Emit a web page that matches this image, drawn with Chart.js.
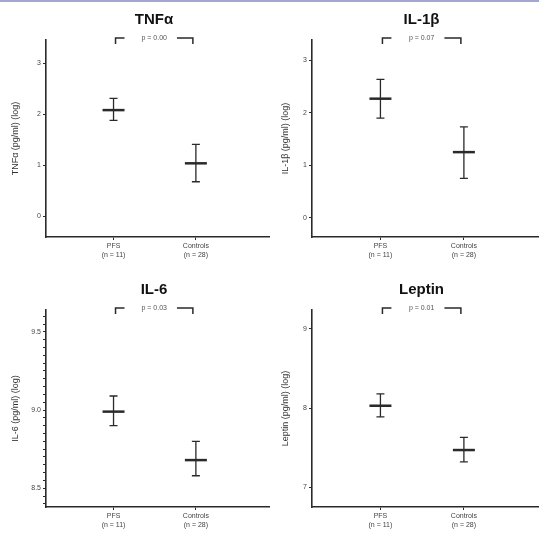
<!DOCTYPE html>
<html>
<head>
<meta charset="utf-8">
<script src="https://cdn.jsdelivr.net/npm/chart.js@4.4.0/dist/chart.umd.min.js"></script>
<style>
  body { margin: 0; background: #fff; }
  #wrap { position: relative; width: 539px; height: 540px; border-top: 2px solid #a4a6d2; box-sizing: border-box; }
  .panel { position: absolute; width: 269px; height: 270px; }
</style>
</head>
<body>
<div id="wrap">
  <div class="panel" style="left:0;top:-2px"><canvas id="c1"></canvas></div>
  <div class="panel" style="left:270px;top:-2px"><canvas id="c2"></canvas></div>
  <div class="panel" style="left:0;top:268px"><canvas id="c3"></canvas></div>
  <div class="panel" style="left:270px;top:268px"><canvas id="c4"></canvas></div>
</div>
<script>
// groups on the x axis
const categories = ['PFS', 'Controls'];
const groupSizes = ['(n = 11)', '(n = 28)'];
const groupPos = [1, 2];

// TNFα
const tnfMean = [2.08, 1.04];
const tnfLow = [1.88, 0.68];
const tnfHigh = [2.31, 1.41];
const tnfTicks = [0, 1, 2, 3];

// IL-1β
const il1bMean = [2.27, 1.25];
const il1bLow = [1.90, 0.75];
const il1bHigh = [2.64, 1.73];
const il1bTicks = [0, 1, 2, 3];

// IL-6
const il6Mean = [8.99, 8.68];
const il6Low = [8.90, 8.58];
const il6High = [9.09, 8.80];
const il6Ticks = [8.5, 9.0, 9.5];

// Leptin
const leptinMean = [8.03, 7.47];
const leptinLow = [7.89, 7.32];
const leptinHigh = [8.18, 7.63];
const leptinTicks = [7, 8, 9];

const pValues = ['p = 0.00', 'p = 0.07', 'p = 0.03', 'p = 0.01'];

const ink = '#2a2a2a';
const font = 'Liberation Sans, Arial, sans-serif';

// draws error bars, the title and the comparison bracket
const extras = {
  id: 'extras',
  afterDatasetsDraw(chart, args, opts) {
    const ctx = chart.ctx;
    const xs = chart.scales.x, ys = chart.scales.y;
    ctx.save();
    ctx.strokeStyle = ink;
    ctx.lineWidth = 1.3;
    opts.low.forEach((lo, i) => {
      const x = xs.getPixelForValue(groupPos[i]);
      const y1 = ys.getPixelForValue(opts.high[i]);
      const y2 = ys.getPixelForValue(lo);
      ctx.beginPath();
      ctx.moveTo(x, y1); ctx.lineTo(x, y2);
      ctx.moveTo(x - 4, y1); ctx.lineTo(x + 4, y1);
      ctx.moveTo(x - 4, y2); ctx.lineTo(x + 4, y2);
      ctx.stroke();
    });

    // title
    const area = chart.chartArea;
    ctx.fillStyle = '#111';
    ctx.font = 'bold 15px ' + font;
    ctx.textAlign = 'center';
    ctx.textBaseline = 'middle';
    ctx.fillText(opts.title, (area.left + area.right) / 2 - 4, 20);

    // bracket with p-value
    const bx1 = xs.getPixelForValue(groupPos[0]) + 2;
    const bx2 = xs.getPixelForValue(groupPos[1]) - 3;
    const by = area.top - 2;
    const mid = (bx1 + bx2) / 2;
    ctx.font = '7px ' + font;
    ctx.fillStyle = '#555';
    ctx.fillText(opts.p, mid, by);
    const half = ctx.measureText(opts.p).width / 2 + 10;
    ctx.lineWidth = 1.5;
    ctx.beginPath();
    ctx.moveTo(bx1, by + 6); ctx.lineTo(bx1, by); ctx.lineTo(bx1 + 9, by);
    ctx.moveTo(mid + half, by); ctx.lineTo(bx2, by); ctx.lineTo(bx2, by + 6);
    ctx.stroke();
    ctx.restore();
  }
};

function makeChart(id, title, yTitle, mean, low, high, ticks, yMin, yMax, p, minorStep, fmt) {
  const points = mean.map((m, i) => ({ x: groupPos[i], y: m }));
  let tickValues = ticks;
  if (minorStep) {
    tickValues = [];
    for (let v = Math.ceil(yMin / minorStep) * minorStep; v <= yMax; v += minorStep) {
      tickValues.push(Math.round(v * 100) / 100);
    }
  }
  new Chart(document.getElementById(id), {
    type: 'scatter',
    data: {
      datasets: [{
        data: points,
        pointStyle: 'line',
        pointRadius: 11,
        pointHoverRadius: 11,
        borderWidth: 2.5,
        borderColor: ink,
        backgroundColor: ink
      }]
    },
    options: {
      responsive: false,
      animation: false,
      events: [],
      layout: { autoPadding: false, padding: { top: 40, left: 0, right: 0, bottom: 0 } },
      plugins: {
        legend: { display: false },
        tooltip: { enabled: false },
        extras: { title: title, p: p, low: low, high: high }
      },
      scales: {
        x: {
          type: 'linear',
          min: 0.18,
          max: 2.9,
          afterBuildTicks: s => { s.ticks = groupPos.map(v => ({ value: v })); },
          afterFit: s => { s.height = 33; s.paddingLeft = 0; s.paddingRight = 0; },
          ticks: {
            color: '#444',
            font: { size: 7, family: font },
            padding: 2,
            callback: v => [categories[v - 1], groupSizes[v - 1]]
          },
          grid: { drawOnChartArea: false, tickLength: 3, color: ink, lineWidth: 1 },
          border: { color: ink, width: 1.6 }
        },
        y: {
          min: yMin,
          max: yMax,
          afterBuildTicks: s => { s.ticks = tickValues.map(v => ({ value: v })); },
          afterFit: s => { s.width = id === 'c2' || id === 'c4' ? 42 : 46; s.paddingTop = 0; s.paddingBottom = 0; },
          ticks: {
            color: '#444',
            font: { size: 7, family: font },
            padding: 2,
            autoSkip: false,
            callback: v => ticks.some(t => Math.abs(t - v) < 1e-6) ? fmt(v) : ''
          },
          grid: { drawOnChartArea: false, tickLength: 3, color: ink, lineWidth: 1 },
          border: { color: ink, width: 1.6 },
          title: {
            display: true,
            text: yTitle,
            color: '#333',
            font: { size: 9, family: font },
            padding: { top: 10, bottom: 0 }
          }
        }
      }
    },
    plugins: [extras]
  });
}

const intFmt = v => String(Math.round(v));
const decFmt = v => v.toFixed(1);

for (const id of ['c1', 'c2', 'c3', 'c4']) {
  const c = document.getElementById(id);
  c.width = id === 'c2' || id === 'c4' ? 269 : 270;
  c.height = 270;
}

makeChart('c1', 'TNFα', 'TNFα (pg/ml) (log)', tnfMean, tnfLow, tnfHigh, tnfTicks, -0.4, 3.45, pValues[0], null, intFmt);
makeChart('c2', 'IL-1β', 'IL-1β (pg/ml) (log)', il1bMean, il1bLow, il1bHigh, il1bTicks, -0.37, 3.39, pValues[1], null, intFmt);
makeChart('c3', 'IL-6', 'IL-6 (pg/ml) (log)', il6Mean, il6Low, il6High, il6Ticks, 8.38, 9.64, pValues[2], 0.05, decFmt);
makeChart('c4', 'Leptin', 'Leptin (pg/ml) (log)', leptinMean, leptinLow, leptinHigh, leptinTicks, 6.75, 9.24, pValues[3], null, intFmt);
</script>
</body>
</html>
